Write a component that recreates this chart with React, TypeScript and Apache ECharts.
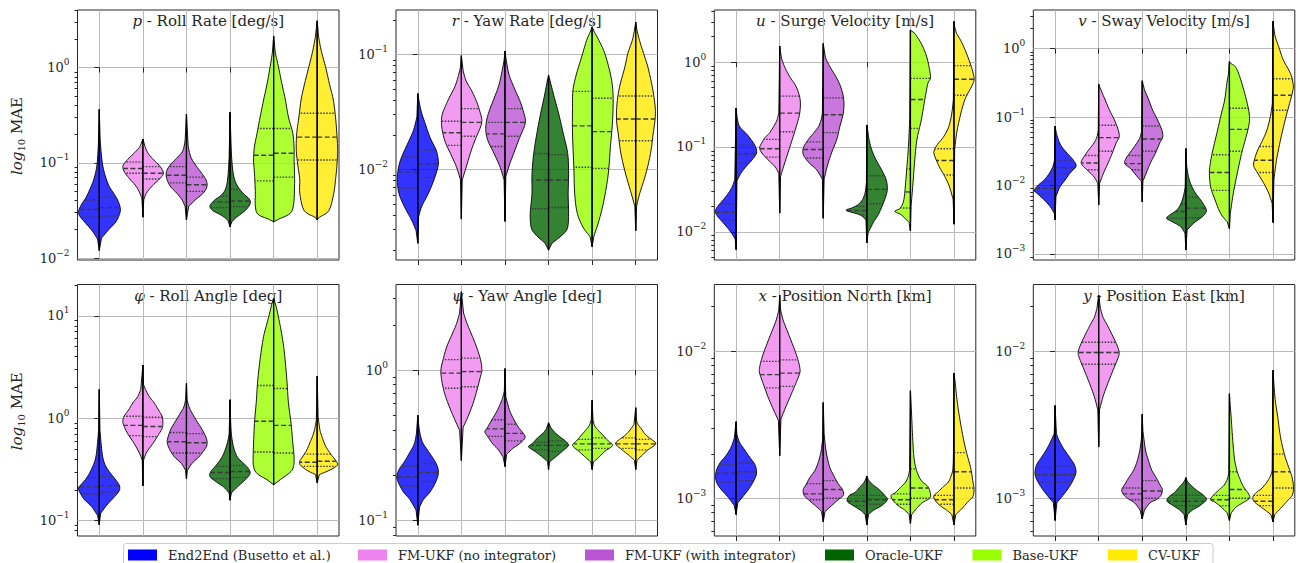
import React, { useEffect, useRef } from 'react';
import * as echarts from 'echarts';

const FONT = 'DejaVu Serif';

const methods = ['End2End (Busetto et al.)', 'FM-UKF (no integrator)', 'FM-UKF (with integrator)', 'Oracle-UKF', 'Base-UKF', 'CV-UKF'];
const methodColors = ['#0000ff', '#ee82ee', '#ba55d3', '#006400', '#99ff00', '#ffea00'];
const methodFills = ['rgba(0,0,255,0.8)', 'rgba(238,130,238,0.8)', 'rgba(186,85,211,0.8)', 'rgba(0,100,0,0.8)', 'rgba(153,255,0,0.8)', 'rgba(255,234,0,0.8)'];
const panelSymbols = ['p', 'r', 'u', 'v', 'φ', 'ψ', 'x', 'y'];
const panelNames = [' - Roll Rate [deg/s]', ' - Yaw Rate [deg/s]', ' - Surge Velocity [m/s]', ' - Sway Velocity [m/s]', ' - Roll Angle [deg]', ' - Yaw Angle [deg]', ' - Position North [km]', ' - Position East [km]'];
// log10 MAE tick decades per panel
const panelDecades = [[-2, -1, 0], [-2, -1], [-2, -1, 0], [-3, -2, -1, 0], [-1, 0, 1], [-1, 0], [-3, -2], [-3, -2]];

// ---- data: log10 MAE; span = [min, max], profiles = [log10 MAE, half width], quartiles = [q1, median, q3]
const rollRateSpan = [[-1.92, -0.44], [-1.57, -0.75], [-1.60, -0.49], [-1.67, -0.47], [-1.62, 0.33], [-1.60, 0.49]];
const rollRateLeft = [
  [[-1.80, .04], [-1.71, .17], [-1.62, .34], [-1.55, .46], [-1.50, .47], [-1.43, .40], [-1.36, .30], [-1.25, .19], [-1.15, .11], [-1.01, .05], [-0.80, .02]],
  [[-1.39, .02], [-1.34, .05], [-1.25, .15], [-1.17, .30], [-1.10, .42], [-1.04, .46], [-0.99, .40], [-0.92, .25], [-0.85, .10], [-0.80, .04]],
  [[-1.46, .03], [-1.39, .10], [-1.32, .22], [-1.24, .38], [-1.15, .46], [-1.08, .45], [-1.01, .35], [-0.94, .20], [-0.87, .08], [-0.76, .03]],
  [[-1.60, .05], [-1.55, .20], [-1.50, .40], [-1.45, .46], [-1.39, .35], [-1.34, .20], [-1.27, .10], [-1.15, .05], [-0.94, .02]],
  [[-1.59, .12], [-1.54, .36], [-1.45, .42], [-1.30, .42], [-1.11, .44], [-0.97, .46], [-0.83, .44], [-0.69, .38], [-0.52, .31], [-0.34, .23], [-0.17, .15], [0.01, .08], [0.15, .03]],
  [[-1.57, .05], [-1.50, .30], [-1.32, .40], [-1.18, .40], [-1.04, .44], [-0.87, .48], [-0.69, .47], [-0.52, .42], [-0.34, .37], [-0.17, .29], [0.01, .19], [0.18, .10], [0.33, .04]],
];
const rollRateRight = [
  [[-1.79, .05], [-1.71, .20], [-1.62, .38], [-1.53, .47], [-1.47, .48], [-1.39, .42], [-1.32, .33], [-1.24, .22], [-1.11, .12], [-0.97, .06], [-0.76, .02]],
  [[-1.39, .02], [-1.32, .08], [-1.24, .22], [-1.17, .38], [-1.11, .47], [-1.04, .40], [-0.97, .25], [-0.90, .12], [-0.83, .05]],
  [[-1.46, .05], [-1.39, .20], [-1.32, .38], [-1.25, .47], [-1.18, .45], [-1.11, .35], [-1.03, .22], [-0.94, .10], [-0.83, .04]],
  [[-1.62, .04], [-1.57, .15], [-1.50, .35], [-1.43, .46], [-1.38, .44], [-1.32, .30], [-1.25, .18], [-1.15, .09], [-0.97, .04], [-0.69, .015]],
  [[-1.59, .12], [-1.53, .38], [-1.43, .46], [-1.25, .48], [-1.11, .48], [-0.97, .47], [-0.85, .47], [-0.69, .44], [-0.52, .34], [-0.34, .27], [-0.17, .19], [0.01, .11], [0.15, .04]],
  [[-1.57, .05], [-1.50, .27], [-1.32, .38], [-1.18, .42], [-1.04, .45], [-0.87, .47], [-0.69, .45], [-0.52, .42], [-0.34, .37], [-0.17, .28], [0.01, .19], [0.18, .09], [0.33, .03]],
];
const rollRateQLeft = [[-1.57, -1.49, -1.39], [-1.11, -1.06, -0.99], [-1.21, -1.13, -1.04], [-1.47, -1.41, -1.35], [-1.19, -0.92, -0.64], [-0.97, -0.73, -0.48]];
const rollRateQRight = [[-1.56, -1.47, -1.36], [-1.17, -1.11, -1.04], [-1.30, -1.23, -1.15], [-1.46, -1.40, -1.28], [-1.15, -0.90, -0.64], [-0.97, -0.73, -0.48]];

const yawRateSpan = [[-2.64, -1.34], [-2.43, -1.01], [-2.45, -0.97], [-2.70, -1.18], [-2.67, -0.76], [-2.53, -0.72]];
const yawRateLeft = [
  [[-2.53, .04], [-2.44, .14], [-2.32, .31], [-2.21, .43], [-2.09, .47], [-1.98, .44], [-1.89, .37], [-1.78, .24], [-1.66, .10], [-1.54, .02]],
  [[-2.09, .02], [-1.98, .11], [-1.86, .25], [-1.75, .38], [-1.63, .45], [-1.54, .45], [-1.46, .38], [-1.37, .27], [-1.28, .15], [-1.20, .08], [-1.11, .02]],
  [[-2.09, .02], [-1.98, .11], [-1.86, .25], [-1.75, .39], [-1.66, .44], [-1.57, .42], [-1.49, .36], [-1.40, .27], [-1.28, .15], [-1.17, .08], [-1.05, .02]],
  [[-2.64, .08], [-2.56, .31], [-2.50, .40], [-2.38, .42], [-2.21, .38], [-2.04, .38], [-1.86, .34], [-1.69, .27], [-1.51, .18], [-1.37, .10], [-1.25, .04]],
  [[-2.58, .05], [-2.50, .21], [-2.38, .34], [-2.21, .40], [-1.98, .42], [-1.69, .45], [-1.46, .45], [-1.31, .44], [-1.17, .36], [-1.02, .24], [-0.88, .13], [-0.81, .05]],
  [[-2.32, .02], [-2.21, .10], [-2.04, .23], [-1.86, .34], [-1.69, .40], [-1.57, .44], [-1.43, .43], [-1.28, .37], [-1.11, .25], [-0.99, .18], [-0.88, .08], [-0.79, .03]],
];
const yawRateRight = [
  [[-2.41, .02], [-2.32, .09], [-2.21, .24], [-2.09, .37], [-1.98, .46], [-1.92, .47], [-1.83, .42], [-1.72, .28], [-1.60, .17], [-1.51, .09], [-1.43, .04]],
  [[-2.09, .02], [-1.98, .11], [-1.83, .23], [-1.72, .34], [-1.63, .44], [-1.57, .47], [-1.49, .42], [-1.40, .34], [-1.31, .23], [-1.23, .11], [-1.14, .04]],
  [[-2.06, .02], [-1.95, .11], [-1.83, .23], [-1.72, .34], [-1.63, .44], [-1.57, .47], [-1.49, .42], [-1.40, .34], [-1.28, .20], [-1.17, .09], [-1.05, .03]],
  [[-2.64, .08], [-2.56, .34], [-2.50, .44], [-2.38, .46], [-2.21, .45], [-2.04, .46], [-1.86, .44], [-1.69, .34], [-1.51, .23], [-1.37, .13], [-1.25, .05]],
  [[-2.58, .04], [-2.44, .16], [-2.27, .27], [-2.04, .37], [-1.80, .42], [-1.57, .47], [-1.34, .48], [-1.17, .42], [-0.99, .29], [-0.88, .16], [-0.81, .06]],
  [[-2.32, .02], [-2.21, .09], [-2.04, .23], [-1.86, .34], [-1.69, .40], [-1.54, .45], [-1.43, .44], [-1.28, .38], [-1.11, .28], [-0.99, .18], [-0.88, .09], [-0.79, .03]],
];
const yawRateQLeft = [[-2.16, -2.02, -1.89], [-1.79, -1.68, -1.58], [-1.80, -1.69, -1.59], [-2.34, -2.09, -1.86], [-1.98, -1.62, -1.32], [-1.75, -1.56, -1.36]];
const yawRateQRight = [[-2.07, -1.95, -1.83], [-1.71, -1.59, -1.47], [-1.71, -1.59, -1.47], [-2.33, -2.09, -1.87], [-1.99, -1.67, -1.38], [-1.75, -1.56, -1.36]];

const surgeSpan = [[-2.21, -0.54], [-1.78, 0.19], [-1.84, 0.22], [-2.13, -0.74], [-1.99, 0.38], [-1.91, 0.48]];
const surgeLeft = [
  [[-2.09, .02], [-2.01, .11], [-1.91, .27], [-1.82, .42], [-1.76, .48], [-1.70, .42], [-1.62, .29], [-1.54, .17], [-1.46, .08], [-1.38, .03]],
  [[-1.31, .02], [-1.23, .11], [-1.15, .27], [-1.07, .41], [-1.01, .46], [-0.95, .41], [-0.89, .34], [-0.84, .24], [-0.76, .14], [-0.68, .06], [-0.60, .02]],
  [[-1.38, .02], [-1.27, .15], [-1.19, .32], [-1.11, .44], [-1.05, .47], [-0.99, .44], [-0.91, .34], [-0.84, .23], [-0.76, .11], [-0.68, .05], [-0.60, .02]],
  [[-1.86, .02], [-1.80, .16], [-1.75, .47], [-1.72, .35], [-1.68, .20], [-1.62, .10], [-1.54, .04], [-1.42, .01]],
  [[-1.89, .03], [-1.80, .21], [-1.76, .36], [-1.72, .23], [-1.62, .15], [-1.42, .11], [-1.23, .08], [-1.03, .05], [-0.84, .03], [-0.64, .015]],
  [[-1.62, .02], [-1.46, .11], [-1.35, .21], [-1.23, .34], [-1.11, .44], [-1.05, .46], [-0.97, .38], [-0.88, .24], [-0.76, .12], [-0.60, .05], [-0.44, .015]],
];
const surgeRight = [
  [[-1.40, .02], [-1.31, .11], [-1.23, .23], [-1.15, .37], [-1.07, .47], [-0.99, .44], [-0.91, .34], [-0.84, .23], [-0.78, .11], [-0.72, .05], [-0.64, .02]],
  [[-1.35, .02], [-1.23, .09], [-1.07, .19], [-0.91, .29], [-0.76, .38], [-0.60, .46], [-0.44, .47], [-0.29, .38], [-0.17, .23], [-0.05, .11], [0.05, .04]],
  [[-1.38, .02], [-1.23, .09], [-1.07, .19], [-0.91, .31], [-0.76, .38], [-0.60, .46], [-0.44, .47], [-0.29, .40], [-0.17, .29], [-0.05, .15], [0.05, .05]],
  [[-2.01, .03], [-1.89, .15], [-1.78, .28], [-1.62, .41], [-1.50, .47], [-1.38, .44], [-1.27, .34], [-1.15, .21], [-1.03, .11], [-0.91, .05], [-0.80, .02]],
  [[-1.70, .015], [-1.42, .06], [-1.15, .10], [-0.91, .15], [-0.68, .25], [-0.44, .33], [-0.25, .40], [-0.19, .46], [-0.09, .44], [0.07, .37], [0.22, .25], [0.34, .10]],
  [[-1.03, .015], [-0.84, .06], [-0.64, .14], [-0.44, .25], [-0.29, .40], [-0.21, .46], [-0.13, .44], [-0.01, .37], [0.15, .25], [0.26, .15], [0.34, .06], [0.42, .015]],
];
const surgeQLeft = [[-1.86, -1.77, -1.67], [-1.12, -1.02, -0.91], [-1.13, -1.03, -0.94], [-1.80, -1.75, -1.70], [-1.72, -1.53, -1.26], [-1.33, -1.16, -1.02]];
const surgeQRight = [[-1.19, -1.08, -0.98], [-0.82, -0.60, -0.40], [-0.83, -0.62, -0.42], [-1.67, -1.50, -1.34], [-0.78, -0.44, -0.19], [-0.39, -0.20, -0.04]];

const swaySpan = [[-2.50, -1.13], [-2.28, -0.52], [-2.24, -0.47], [-2.94, -1.46], [-2.63, -0.19], [-2.54, 0.40]];
const swayLeft = [
  [[-2.41, .015], [-2.31, .11], [-2.21, .25], [-2.11, .42], [-2.07, .48], [-1.99, .38], [-1.92, .25], [-1.82, .13], [-1.72, .05], [-1.63, .015]],
  [[-1.97, .02], [-1.87, .11], [-1.77, .27], [-1.70, .38], [-1.65, .40], [-1.58, .34], [-1.48, .23], [-1.38, .11], [-1.29, .04], [-1.19, .01]],
  [[-1.94, .02], [-1.85, .14], [-1.75, .27], [-1.68, .40], [-1.60, .37], [-1.51, .27], [-1.41, .16], [-1.31, .06], [-1.21, .015]],
  [[-2.70, .02], [-2.60, .12], [-2.53, .31], [-2.48, .44], [-2.43, .37], [-2.36, .21], [-2.26, .11], [-2.14, .05], [-2.02, .015]],
  [[-2.53, .05], [-2.41, .20], [-2.21, .33], [-2.02, .43], [-1.82, .46], [-1.68, .44], [-1.48, .38], [-1.24, .29], [-0.99, .20], [-0.75, .11], [-0.51, .06], [-0.36, .02]],
  [[-2.26, .02], [-2.11, .10], [-1.97, .21], [-1.82, .35], [-1.72, .44], [-1.63, .43], [-1.48, .35], [-1.34, .24], [-1.19, .14], [-0.99, .06], [-0.80, .015]],
];
const swayRight = [
  [[-2.16, .02], [-2.02, .11], [-1.92, .23], [-1.82, .34], [-1.72, .48], [-1.63, .42], [-1.53, .28], [-1.43, .15], [-1.34, .08], [-1.24, .03]],
  [[-1.97, .02], [-1.82, .11], [-1.68, .21], [-1.53, .31], [-1.38, .40], [-1.29, .47], [-1.19, .45], [-1.04, .36], [-0.90, .25], [-0.75, .15], [-0.60, .05]],
  [[-1.94, .015], [-1.82, .09], [-1.68, .18], [-1.53, .30], [-1.38, .40], [-1.29, .47], [-1.19, .45], [-1.04, .35], [-0.90, .24], [-0.75, .15], [-0.60, .05]],
  [[-2.65, .03], [-2.55, .18], [-2.46, .37], [-2.38, .47], [-2.31, .44], [-2.21, .34], [-2.11, .22], [-1.99, .12], [-1.87, .06], [-1.72, .02]],
  [[-2.41, .02], [-2.11, .09], [-1.82, .18], [-1.53, .28], [-1.34, .36], [-1.14, .44], [-0.99, .46], [-0.80, .41], [-0.56, .31], [-0.36, .21], [-0.26, .13], [-0.22, .04]],
  [[-1.92, .02], [-1.63, .08], [-1.34, .17], [-1.04, .28], [-0.80, .38], [-0.60, .46], [-0.51, .46], [-0.36, .40], [-0.17, .24], [0.03, .13], [0.18, .05], [0.32, .015]],
];
const swayQLeft = [[-2.12, -2.04, -1.94], [-1.77, -1.67, -1.56], [-1.77, -1.68, -1.56], [-2.48, -2.38, -2.27], [-2.07, -1.81, -1.55], [-1.81, -1.63, -1.43]];
const swayQRight = [[-1.83, -1.74, -1.64], [-1.50, -1.30, -1.12], [-1.50, -1.32, -1.13], [-2.47, -2.33, -2.17], [-1.50, -1.18, -0.87], [-0.90, -0.68, -0.44]];

const rollAngleSpan = [[-1.04, 0.28], [-0.66, 0.52], [-0.59, 0.34], [-0.80, 0.18], [-0.65, 1.17], [-0.63, 0.41]];
const rollAngleLeft = [
  [[-0.95, .04], [-0.86, .18], [-0.80, .33], [-0.73, .44], [-0.68, .48], [-0.64, .40], [-0.57, .27], [-0.47, .15], [-0.38, .08], [-0.24, .04], [-0.11, .015]],
  [[-0.41, .015], [-0.34, .08], [-0.24, .21], [-0.15, .35], [-0.08, .43], [-0.03, .46], [0.02, .43], [0.08, .33], [0.15, .23], [0.21, .12], [0.28, .05]],
  [[-0.51, .02], [-0.44, .12], [-0.38, .27], [-0.31, .38], [-0.24, .44], [-0.18, .42], [-0.10, .35], [-0.02, .24], [0.05, .14], [0.11, .06], [0.18, .02]],
  [[-0.73, .02], [-0.67, .15], [-0.62, .32], [-0.57, .46], [-0.52, .44], [-0.47, .34], [-0.41, .23], [-0.34, .14], [-0.24, .06], [-0.15, .02]],
  [[-0.60, .15], [-0.54, .38], [-0.47, .46], [-0.38, .47], [-0.24, .46], [-0.05, .44], [0.15, .40], [0.34, .37], [0.47, .34], [0.64, .29], [0.80, .23], [0.93, .15], [1.03, .09], [1.12, .04]],
  [[-0.55, .04], [-0.51, .23], [-0.46, .38], [-0.42, .40], [-0.38, .34], [-0.31, .24], [-0.24, .17], [-0.18, .11], [-0.11, .06], [-0.02, .02]],
];
const rollAngleRight = [
  [[-0.93, .03], [-0.85, .17], [-0.78, .32], [-0.72, .44], [-0.67, .47], [-0.62, .41], [-0.55, .28], [-0.47, .15], [-0.38, .08], [-0.24, .04], [-0.11, .015]],
  [[-0.41, .015], [-0.33, .09], [-0.24, .24], [-0.16, .36], [-0.10, .44], [-0.05, .46], [0.02, .44], [0.08, .36], [0.15, .26], [0.21, .15], [0.28, .06], [0.33, .015]],
  [[-0.51, .02], [-0.44, .13], [-0.38, .28], [-0.31, .41], [-0.26, .47], [-0.20, .46], [-0.11, .36], [-0.03, .24], [0.05, .13], [0.11, .06], [0.18, .015]],
  [[-0.73, .03], [-0.67, .17], [-0.60, .35], [-0.54, .46], [-0.49, .42], [-0.44, .31], [-0.38, .17], [-0.28, .08], [-0.15, .03], [0.02, .01]],
  [[-0.60, .15], [-0.52, .40], [-0.46, .46], [-0.38, .47], [-0.24, .44], [-0.05, .40], [0.15, .34], [0.34, .31], [0.54, .27], [0.70, .23], [0.86, .17], [0.99, .11], [1.09, .06]],
  [[-0.55, .05], [-0.51, .27], [-0.46, .46], [-0.41, .42], [-0.35, .31], [-0.27, .19], [-0.18, .11], [-0.11, .06], [0.02, .02]],
];
const rollAngleQLeft = [[-0.74, -0.67, -0.58], [-0.17, -0.07, 0.02], [-0.34, -0.23, -0.14], [-0.59, -0.53, -0.47], [-0.33, -0.03, 0.32], [-0.47, -0.43, -0.35]];
const rollAngleQRight = [[-0.72, -0.66, -0.57], [-0.18, -0.08, 0.01], [-0.34, -0.24, -0.15], [-0.58, -0.52, -0.46], [-0.34, -0.07, 0.29], [-0.47, -0.42, -0.35]];

const yawAngleSpan = [[-1.03, -0.30], [-0.60, 0.52], [-0.64, 0.01], [-0.66, -0.35], [-0.66, -0.20], [-0.66, -0.25]];
const yawAngleLeft = [
  [[-0.93, .04], [-0.86, .18], [-0.81, .33], [-0.75, .44], [-0.71, .48], [-0.66, .43], [-0.61, .31], [-0.55, .19], [-0.49, .08], [-0.42, .03]],
  [[-0.40, .04], [-0.33, .15], [-0.24, .28], [-0.16, .38], [-0.07, .45], [0.0, .47], [0.07, .42], [0.16, .33], [0.24, .21], [0.31, .11], [0.38, .04]],
  [[-0.58, .04], [-0.53, .15], [-0.49, .28], [-0.44, .40], [-0.41, .46], [-0.38, .40], [-0.32, .28], [-0.27, .18], [-0.22, .10], [-0.18, .05], [-0.14, .015]],
  [[-0.61, .02], [-0.58, .13], [-0.54, .31], [-0.51, .46], [-0.49, .38], [-0.45, .25], [-0.42, .13], [-0.39, .05]],
  [[-0.61, .03], [-0.58, .15], [-0.54, .30], [-0.50, .45], [-0.47, .36], [-0.43, .24], [-0.40, .15], [-0.37, .07], [-0.33, .02]],
  [[-0.60, .03], [-0.57, .14], [-0.53, .31], [-0.49, .46], [-0.46, .37], [-0.43, .23], [-0.39, .11], [-0.36, .04]],
];
const yawAngleRight = [
  [[-0.91, .04], [-0.86, .13], [-0.81, .28], [-0.75, .40], [-0.69, .47], [-0.64, .45], [-0.59, .36], [-0.53, .22], [-0.48, .11], [-0.42, .05], [-0.35, .015]],
  [[-0.38, .04], [-0.31, .15], [-0.22, .27], [-0.13, .36], [-0.04, .44], [0.0, .47], [0.07, .44], [0.16, .34], [0.24, .23], [0.31, .13], [0.38, .05]],
  [[-0.56, .04], [-0.52, .18], [-0.49, .33], [-0.45, .46], [-0.42, .42], [-0.38, .31], [-0.32, .19], [-0.27, .11], [-0.22, .06], [-0.18, .02]],
  [[-0.61, .02], [-0.58, .15], [-0.54, .31], [-0.50, .46], [-0.47, .38], [-0.44, .25], [-0.41, .13], [-0.38, .05]],
  [[-0.61, .03], [-0.58, .15], [-0.54, .29], [-0.50, .47], [-0.47, .37], [-0.43, .24], [-0.40, .14], [-0.37, .06], [-0.33, .02]],
  [[-0.60, .03], [-0.57, .13], [-0.53, .28], [-0.49, .46], [-0.46, .36], [-0.43, .23], [-0.39, .13], [-0.36, .05], [-0.33, .015]],
];
const yawAngleQLeft = [[-0.77, -0.71, -0.64], [-0.12, -0.02, 0.07], [-0.44, -0.39, -0.33], [-0.53, -0.50, -0.48], [-0.53, -0.49, -0.46], [-0.52, -0.49, -0.45]];
const yawAngleQRight = [[-0.74, -0.68, -0.62], [-0.11, -0.01, 0.08], [-0.47, -0.42, -0.36], [-0.54, -0.50, -0.47], [-0.52, -0.49, -0.45], [-0.53, -0.49, -0.46]];

const northSpan = [[-3.11, -2.48], [-2.71, -1.62], [-3.16, -2.35], [-3.18, -2.85], [-3.17, -2.27], [-3.18, -2.15]];
const northLeft = [
  [[-3.05, .04], [-2.99, .19], [-2.93, .37], [-2.88, .46], [-2.82, .46], [-2.76, .37], [-2.71, .23], [-2.65, .11], [-2.59, .04]],
  [[-2.47, .03], [-2.40, .14], [-2.31, .27], [-2.22, .38], [-2.15, .46], [-2.11, .46], [-2.04, .40], [-1.95, .29], [-1.86, .17], [-1.79, .08], [-1.72, .02]],
  [[-3.09, .04], [-3.05, .18], [-3.01, .34], [-2.98, .44], [-2.94, .46], [-2.91, .40], [-2.86, .31], [-2.81, .19], [-2.75, .11], [-2.68, .05], [-2.60, .015]],
  [[-3.11, .04], [-3.08, .15], [-3.05, .31], [-3.02, .45], [-2.98, .40], [-2.96, .27], [-2.92, .15], [-2.89, .06], [-2.86, .015]],
  [[-3.11, .03], [-3.08, .13], [-3.05, .28], [-3.01, .41], [-2.98, .44], [-2.96, .34], [-2.92, .21], [-2.89, .11], [-2.85, .05], [-2.81, .02]],
  [[-3.11, .05], [-3.08, .17], [-3.05, .32], [-3.01, .44], [-2.98, .46], [-2.96, .38], [-2.92, .24], [-2.89, .13], [-2.85, .07], [-2.81, .03], [-2.74, .015]],
];
const northRight = [
  [[-3.03, .04], [-2.98, .18], [-2.92, .33], [-2.86, .44], [-2.82, .47], [-2.77, .43], [-2.72, .31], [-2.66, .17], [-2.62, .08], [-2.57, .02]],
  [[-2.46, .03], [-2.38, .14], [-2.29, .27], [-2.22, .37], [-2.15, .46], [-2.11, .46], [-2.04, .40], [-1.95, .29], [-1.86, .17], [-1.79, .08], [-1.72, .02]],
  [[-3.09, .04], [-3.05, .19], [-3.01, .34], [-2.98, .46], [-2.94, .44], [-2.90, .34], [-2.84, .23], [-2.79, .15], [-2.72, .09], [-2.65, .05], [-2.56, .02]],
  [[-3.11, .04], [-3.08, .16], [-3.05, .34], [-3.01, .47], [-2.98, .41], [-2.94, .28], [-2.91, .15], [-2.88, .05], [-2.86, .015]],
  [[-3.11, .03], [-3.07, .14], [-3.03, .27], [-3.00, .44], [-2.97, .46], [-2.92, .40], [-2.88, .25], [-2.81, .14], [-2.72, .08], [-2.58, .05], [-2.45, .03], [-2.36, .015]],
  [[-3.11, .04], [-3.07, .18], [-3.02, .33], [-2.99, .43], [-2.94, .46], [-2.88, .43], [-2.79, .38], [-2.67, .27], [-2.54, .18], [-2.40, .10], [-2.31, .06], [-2.22, .03]],
];
const northQLeft = [[-2.89, -2.83, -2.77], [-2.25, -2.16, -2.07], [-3.01, -2.97, -2.90], [-3.05, -3.02, -2.98], [-3.04, -3.01, -2.97], [-3.04, -3.01, -2.98]];
const northQRight = [[-2.88, -2.82, -2.76], [-2.24, -2.15, -2.06], [-3.00, -2.94, -2.88], [-3.04, -3.01, -2.98], [-3.00, -2.93, -2.80], [-2.93, -2.82, -2.69]];

const eastSpan = [[-3.15, -2.37], [-2.65, -1.62], [-3.14, -2.43], [-3.18, -2.86], [-3.15, -2.29], [-3.16, -2.13]];
const eastLeft = [
  [[-3.03, .04], [-2.98, .18], [-2.92, .33], [-2.86, .44], [-2.82, .46], [-2.77, .42], [-2.72, .31], [-2.66, .18], [-2.60, .08], [-2.56, .02]],
  [[-2.40, .02], [-2.31, .10], [-2.22, .21], [-2.13, .33], [-2.05, .44], [-2.01, .47], [-1.96, .42], [-1.89, .31], [-1.82, .19], [-1.77, .10], [-1.71, .04]],
  [[-3.08, .05], [-3.03, .18], [-3.00, .34], [-2.97, .44], [-2.94, .47], [-2.91, .41], [-2.86, .31], [-2.81, .20], [-2.75, .12], [-2.68, .06], [-2.60, .02]],
  [[-3.11, .04], [-3.08, .14], [-3.05, .29], [-3.02, .43], [-2.99, .39], [-2.96, .26], [-2.92, .14], [-2.89, .05], [-2.87, .015]],
  [[-3.10, .05], [-3.07, .15], [-3.03, .31], [-3.01, .43], [-2.98, .37], [-2.94, .23], [-2.91, .12], [-2.87, .05], [-2.83, .015]],
  [[-3.11, .05], [-3.08, .18], [-3.05, .32], [-3.02, .44], [-2.99, .46], [-2.96, .38], [-2.93, .25], [-2.89, .14], [-2.85, .06], [-2.81, .02]],
];
const eastRight = [
  [[-3.03, .04], [-2.98, .18], [-2.92, .33], [-2.86, .44], [-2.82, .48], [-2.77, .44], [-2.72, .33], [-2.66, .19], [-2.60, .08], [-2.56, .03]],
  [[-2.40, .02], [-2.31, .10], [-2.22, .21], [-2.13, .33], [-2.05, .44], [-2.01, .47], [-1.96, .42], [-1.89, .31], [-1.82, .19], [-1.77, .10], [-1.71, .04]],
  [[-3.08, .05], [-3.03, .18], [-3.01, .32], [-2.98, .43], [-2.94, .46], [-2.91, .41], [-2.86, .32], [-2.81, .22], [-2.75, .15], [-2.68, .08], [-2.60, .04], [-2.54, .015]],
  [[-3.11, .04], [-3.08, .15], [-3.05, .32], [-3.01, .47], [-2.98, .41], [-2.95, .27], [-2.92, .15], [-2.89, .05], [-2.87, .015]],
  [[-3.10, .04], [-3.06, .15], [-3.03, .31], [-3.00, .46], [-2.97, .44], [-2.92, .32], [-2.86, .23], [-2.81, .17], [-2.72, .11], [-2.58, .07], [-2.45, .04], [-2.36, .015]],
  [[-3.11, .04], [-3.07, .17], [-3.02, .32], [-2.98, .44], [-2.93, .47], [-2.86, .44], [-2.79, .36], [-2.70, .26], [-2.58, .17], [-2.45, .11], [-2.33, .05], [-2.22, .02]],
];
const eastQLeft = [[-2.89, -2.84, -2.79], [-2.09, -2.01, -1.94], [-3.01, -2.97, -2.93], [-3.05, -3.02, -2.98], [-3.05, -3.01, -2.98], [-3.05, -3.02, -2.98]];
const eastQRight = [[-2.89, -2.84, -2.78], [-2.09, -2.01, -1.94], [-3.00, -2.95, -2.88], [-3.05, -3.02, -2.98], [-3.00, -2.94, -2.82], [-2.93, -2.82, -2.70]];

// ---- layout (not data)
const colLeft = [77.5, 396, 714.3, 1033.3];
const rowTop = [10, 284.5];
const rowHeight = [250, 251.5];
const gridWidth = 261.5;
const yRanges = [[-2.02, 0.604], [-2.786, -0.613], [-2.333, 0.616], [-3.088, 0.565], [-1.15, 1.306], [-1.102, 0.569], [-3.256, -1.548], [-3.256, -1.548]];
const legendX = [128, 358, 585, 825, 972.5, 1108];
const GRID_COLOR = '#b9b9b9';

const panels = [
  { span: rollRateSpan, left: rollRateLeft, right: rollRateRight, qL: rollRateQLeft, qR: rollRateQRight },
  { span: yawRateSpan, left: yawRateLeft, right: yawRateRight, qL: yawRateQLeft, qR: yawRateQRight },
  { span: surgeSpan, left: surgeLeft, right: surgeRight, qL: surgeQLeft, qR: surgeQRight },
  { span: swaySpan, left: swayLeft, right: swayRight, qL: swayQLeft, qR: swayQRight },
  { span: rollAngleSpan, left: rollAngleLeft, right: rollAngleRight, qL: rollAngleQLeft, qR: rollAngleQRight },
  { span: yawAngleSpan, left: yawAngleLeft, right: yawAngleRight, qL: yawAngleQLeft, qR: yawAngleQRight },
  { span: northSpan, left: northLeft, right: northRight, qL: northQLeft, qR: northQRight },
  { span: eastSpan, left: eastLeft, right: eastRight, qL: eastQLeft, qR: eastQRight },
];

function catmull(pts: number[][], steps = 5): number[][] {
  const n = pts.length;
  if (n < 3) return pts.slice();
  const out: number[][] = [];
  for (let k = 0; k < n - 1; k++) {
    const p0 = pts[Math.max(k - 1, 0)], p1 = pts[k], p2 = pts[k + 1], p3 = pts[Math.min(k + 2, n - 1)];
    for (let s = 0; s < steps; s++) {
      const t = s / steps, t2 = t * t, t3 = t2 * t;
      const f = (a: number, b: number, c: number, d: number) =>
        0.5 * (2 * b + (-a + c) * t + (2 * a - 5 * b + 4 * c - d) * t2 + (-a + 3 * b - 3 * c + d) * t3);
      out.push([f(p0[0], p1[0], p2[0], p3[0]), f(p0[1], p1[1], p2[1], p3[1])]);
    }
  }
  out.push(pts[n - 1]);
  return out;
}

function widthAt(prof: number[][], span: number[], L: number): number {
  const pts = [[span[0], 0], ...prof, [span[1], 0]];
  for (let k = 0; k < pts.length - 1; k++) {
    const a = pts[k], b = pts[k + 1];
    if (L >= a[0] && L <= b[0]) {
      const t = b[0] === a[0] ? 0 : (L - a[0]) / (b[0] - a[0]);
      return a[1] + t * (b[1] - a[1]);
    }
  }
  return 0;
}

function makeRender(panel: any, m: number) {
  return (params: any, api: any) => {
    const span = panel.span[m];
    const bottom = api.coord([m, span[0]]);
    const top = api.coord([m, span[1]]);
    const cx = bottom[0];
    const children: any[] = [];
    const sides = [
      { prof: panel.left[m], q: panel.qL[m], sign: -1 },
      { prof: panel.right[m], q: panel.qR[m], sign: 1 },
    ];
    sides.forEach(({ prof, sign }) => {
      const px = prof.map((d: number[]) => api.coord([m + sign * d[1], d[0]]));
      const sm = catmull(px).map((p: number[]) => [sign < 0 ? Math.min(p[0], cx) : Math.max(p[0], cx), p[1]]);
      children.push({
        type: 'polygon',
        shape: { points: [bottom, ...sm, top] },
        style: { fill: methodFills[m], stroke: '#000', lineWidth: 0.9 },
      });
    });
    sides.forEach(({ prof, q, sign }) => {
      q.forEach((L: number, k: number) => {
        const w = widthAt(prof, span, L);
        const a = api.coord([m, L]);
        const b = api.coord([m + sign * w, L]);
        children.push({
          type: 'line',
          shape: { x1: a[0], y1: a[1], x2: b[0], y2: b[1] },
          style: { stroke: '#3a3a3a', lineWidth: 1.4, lineDash: k === 1 ? [5, 2.5] : [1.5, 1.5] },
        });
      });
    });
    children.push({
      type: 'line',
      shape: { x1: cx, y1: bottom[1], x2: cx, y2: top[1] },
      style: { stroke: '#000', lineWidth: 1.3 },
    });
    return { type: 'group', children };
  };
}

function buildOption() {
  const grid: any[] = [];
  const xAxis: any[] = [];
  const yAxis: any[] = [];
  const series: any[] = [];
  const graphic: any[] = [];
  panels.forEach((panel, p) => {
    const col = p % 4, row = Math.floor(p / 4);
    const [ymin, ymax] = yRanges[p];
    grid.push({
      left: colLeft[col], top: rowTop[row], width: gridWidth, height: rowHeight[row],
      show: true, borderColor: '#262626', borderWidth: 1, backgroundColor: 'transparent',
    });
    xAxis.push({
      gridIndex: p, type: 'value', min: -0.5, max: 5.5,
      axisLine: { show: false },
      axisTick: { show: true, customValues: [0, 1, 2, 3, 4, 5], length: 5, lineStyle: { color: '#262626', width: 1 } },
      axisLabel: { show: false },
      splitLine: { show: true, lineStyle: { color: GRID_COLOR, width: 1 } },
    });
    const decades = panelDecades[p];
    const minors: number[] = [];
    for (let n = Math.floor(ymin); n <= Math.ceil(ymax); n++) {
      for (let k = 2; k <= 9; k++) {
        const v = n + Math.log10(k);
        if (v > ymin && v < ymax) minors.push(v);
      }
    }
    yAxis.push({
      gridIndex: p, type: 'value', position: 'left', min: ymin, max: ymax,
      axisLine: { show: false },
      axisTick: { show: true, inside: false, customValues: decades, length: 5, lineStyle: { color: '#262626', width: 1 } },
      axisLabel: {
        show: true, customValues: decades, margin: 8, color: '#262626', fontFamily: FONT,
        formatter: (v: number) => '{b|10}{e|' + (v < 0 ? '\u2212' + Math.abs(Math.round(v)) : Math.round(v)) + '}',
        rich: {
          b: { fontSize: 13, fontFamily: FONT, color: '#262626', lineHeight: 20, verticalAlign: 'middle' },
          e: { fontSize: 9, fontFamily: FONT, color: '#262626', lineHeight: 9, verticalAlign: 'top' },
        },
      },
      splitLine: { show: true, lineStyle: { color: GRID_COLOR, width: 1 } },
    });
    yAxis.push({
      gridIndex: p, type: 'value', position: 'left', offset: 0, min: ymin, max: ymax,
      axisLine: { show: false },
      axisTick: { show: true, inside: false, customValues: minors, length: 3, lineStyle: { color: '#262626', width: 1 } },
      axisLabel: { show: false },
      splitLine: { show: false },
    });
    methods.forEach((name, m) => {
      series.push({
        type: 'custom', name, xAxisIndex: p, yAxisIndex: 2 * p,
        data: [[m, panel.span[m][0]]],
        itemStyle: { color: methodColors[m] },
        renderItem: makeRender(panel, m),
        silent: true,
      });
    });
    graphic.push({
      type: 'text',
      x: colLeft[col] + gridWidth / 2, y: rowTop[row] + 11,
      style: {
        text: '{v|' + panelSymbols[p] + '}{n|' + panelNames[p] + '}',
        fontFamily: FONT, fontSize: 15, fill: '#262626',
        align: 'center', verticalAlign: 'middle',
        rich: {
          v: { fontStyle: 'italic', fontFamily: FONT, fontSize: 15, fill: '#262626' },
          n: { fontFamily: FONT, fontSize: 15, fill: '#262626' },
        },
      },
    });
  });
  [0, 1].forEach((row) => {
    graphic.push({
      type: 'text',
      x: 17, y: rowTop[row] + rowHeight[row] / 2 + 1, rotation: Math.PI / 2,
      style: {
        text: '{v|log}{s|10}{n| MAE}',
        fontFamily: FONT, fontSize: 15, fill: '#262626',
        align: 'center', verticalAlign: 'middle',
        rich: {
          v: { fontStyle: 'italic', fontFamily: FONT, fontSize: 15, fill: '#262626', lineHeight: 18, verticalAlign: 'middle' },
          s: { fontFamily: FONT, fontSize: 10, fill: '#262626', lineHeight: 10, verticalAlign: 'bottom' },
          n: { fontFamily: FONT, fontSize: 15, fill: '#262626', lineHeight: 18, verticalAlign: 'middle' },
        },
      },
    });
  });
  graphic.push({
    type: 'rect', z: -1,
    shape: { x: 123.5, y: 543.5, width: 1089.5, height: 30, r: 3 },
    style: { fill: 'rgba(255,255,255,0.8)', stroke: '#cccccc', lineWidth: 1 },
  });
  const legend = methods.map((name, m) => ({
    data: [{ name, icon: 'rect' }],
    left: legendX[m], top: 548, padding: 0,
    itemWidth: 29, itemHeight: 11, selectedMode: false,
    textStyle: { fontFamily: FONT, fontSize: 13, color: '#262626', lineHeight: 14, padding: [0, 0, 0, 6] },
  }));
  return {
    animation: false, backgroundColor: '#ffffff',
    textStyle: { fontFamily: FONT },
    grid, xAxis, yAxis, series, graphic, legend,
  };
}

export default function App() {
  const ref = useRef<HTMLDivElement>(null);
  useEffect(() => {
    document.body.style.margin = '0';
    const chart = echarts.init(ref.current as HTMLDivElement, undefined, { renderer: 'svg' });
    chart.setOption(buildOption() as any);
    return () => chart.dispose();
  }, []);
  return <div ref={ref} style={{ width: 1297, height: 563 }} />;
}
